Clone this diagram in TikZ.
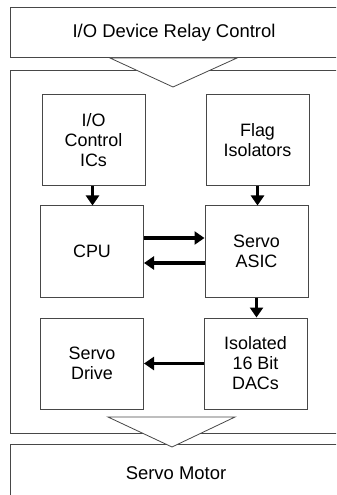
\documentclass[tikz,border=0pt]{standalone}
\usepackage{fontspec}
\setmainfont{Liberation Sans}
\usetikzlibrary{arrows.meta}
\begin{document}
\begin{tikzpicture}[x=1bp,y=-1bp,
  frame/.style={draw=black!72,line width=1bp},
  unit/.style={frame,minimum width=103bp,minimum height=91bp,inner sep=0pt,
    align=center,font=\fontsize{18}{20}\selectfont},
  funnel/.style={draw=black!72,fill=white,line width=0.8bp,line join=miter},
  flow/.style={line width=3.8bp,-{Triangle[length=10bp,width=13bp]}},
  bigtext/.style={font=\fontsize{18.5}{20}\selectfont}]
\useasboundingbox (0,0) rectangle (336,495);
\begin{scope}
\clip (0,0) rectangle (336,495);
% outer bands
\draw[frame] (10,8) rectangle (350,58);
\draw[frame] (10,71) rectangle (350,433);
\draw[frame] (10,444) rectangle (350,510);
% funnels between the bands
\draw[funnel] (110,58) -- (237,58) -- (173,87) -- cycle;
\draw[funnel] (108,417) -- (235,417) -- (172,447) -- cycle;
\end{scope}
\node[bigtext] (relay) at (174,33) {I/O Device Relay Control};
\node[bigtext] (motor) at (176,473) {Servo Motor};
% processing units
\node[unit] (io)   at (93.5,140) {I/O\\Control\\ICs};
\node[unit] (flag) at (257.5,140) {Flag\\Isolators};
\node[unit] (cpu)  at (92,251.5) {CPU};
\node[unit] (asic) at (256.5,251.5) {Servo\\ASIC};
\node[unit] (drv)  at (92,363.5) {Servo\\Drive};
\node[unit] (dac)  at (255.5,363.5) {Isolated\\16 Bit\\DACs};
% signal paths
\draw[flow] ([xshift=-1bp]io.south) -- ([xshift=-1bp]io.south |- cpu.north);
\draw[flow] (flag.south) -- (flag.south |- asic.north);
\draw[flow] (asic.south) -- (asic.south |- dac.north);
\draw[flow] ([yshift=13.5bp]cpu.east) -- ([yshift=13.5bp]asic.west);
\draw[flow] ([yshift=-11.5bp]asic.west) -- ([yshift=-11.5bp]cpu.east);
\draw[flow] (dac.west) -- (drv.east);
\end{tikzpicture}
\end{document}
